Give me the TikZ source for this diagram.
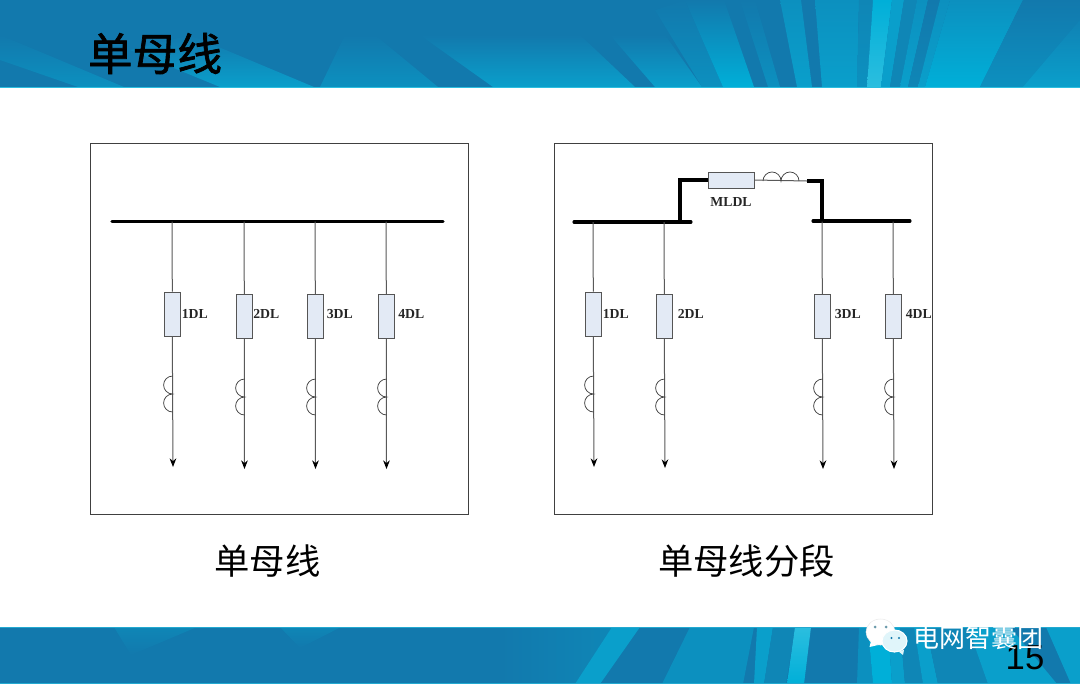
\documentclass[tikz,border=0pt]{standalone}
\usetikzlibrary{arrows.meta}
\usepackage{fontspec}
\setmainfont{Liberation Serif}
\newfontfamily\cjk{Noto Sans CJK SC}
\newfontfamily\cjkt[RawFeature={embolden=1.6}]{Noto Sans CJK SC}
\newfontfamily\arialf{Liberation Sans}
\definecolor{rayD}{HTML}{1279AD}
\definecolor{rayE}{HTML}{0F86B6}
\definecolor{rayL}{HTML}{0C90BF}
\definecolor{rayM}{HTML}{0A9FCB}
\definecolor{rayB}{HTML}{00AFD8}
\definecolor{rayP}{HTML}{2BBEDF}
\definecolor{boxfill}{HTML}{E3EAF5}
\definecolor{boxline}{HTML}{555555}
\tikzset{
  frame/.style={draw=black!75,line width=0.6pt,fill=white},
  bus/.style={line width=2.3pt,line cap=round,black},
  feeder/.style={line width=0.75pt,draw=black!65},
  feedarrow/.style={line width=0.75pt,draw=black!65,-{Stealth[length=6.5pt,width=5pt,black]}},
  breaker/.style={draw=boxline,line width=0.7pt,fill=boxfill,inner sep=0pt,minimum width=12pt,minimum height=33pt},
  hbreaker/.style={draw=boxline,line width=0.7pt,fill=boxfill,inner sep=0pt,minimum width=34.5pt,minimum height=12pt},
  coil/.style={draw=black!75,line width=0.55pt},
  dl/.style={font=\bfseries\fontsize{10.3pt}{11pt}\selectfont,inner sep=0pt,text=black!85},
  caption/.style={font=\cjk\fontsize{26.5pt}{28pt}\selectfont,inner sep=0pt,text=black},
}
% ray with a gradient running over the whole height of the top band: top colour, bottom colour, outline
\newcommand{\toprayfill}[3]{\begin{scope}\clip #3;\shade[top color=#1,bottom color=#2] (0,0) rectangle (1080,87);\end{scope}}
% ray that stays the band's dark colour down to y=35 and then brightens: bottom colour, outline
\newcommand{\softray}[2]{\begin{scope}\clip #2;\shade[top color=rayD,bottom color=#1] (0,35) rectangle (1080,87);\end{scope}}
% id, top x, bus y, box top y, box bottom y, arrow end x, arrow end y, label x, label
\newcommand{\baydraw}[9]{
  \coordinate (#1t) at (#2,#3);
  \node[breaker] (#1b) at (#2+0.3,{(#4+#5)/2}) {};
  \coordinate (#1e) at (#6,#7);
  \draw[feeder] (#1t) -- (#1b.north);
  \draw[feedarrow] (#1b.south) -- (#1e);
  \draw[coil] (#2+0.6,#5+40) arc[start angle=270,end angle=90,radius=9] arc[start angle=270,end angle=90,radius=9];
  \node[dl,anchor=west] (#1l) at (#8,314) {#9};
}
\begin{document}
\begin{tikzpicture}[x=0.75pt,y=-0.75pt]
\useasboundingbox (0,0) rectangle (1080,686);
\fill[white] (0,0) rectangle (1080,686);
% top band
\begin{scope}
\clip (0,0) rectangle (1080,87);
\fill[rayD] (0,0) rectangle (1080,87);
\softray{rayL}{(0,35) -- (124,87) -- (78,87) -- (0,60) -- cycle}
\softray{rayM}{(190,35) -- (314,87) -- (220,87) -- (130,50) -- cycle}
\softray{rayL}{(320,87) -- (345,35) -- (375,35) -- (438,87) -- cycle}
\softray{rayM}{(420,35) -- (580,35) -- (635,87) -- (493,87) -- cycle}
\softray{rayM}{(610,35) -- (665,35) -- (702,87) -- (655,87) -- cycle}
\toprayfill{rayD}{rayL}{(655,10) -- (685,0) -- (723,87) -- (702,87) -- cycle}
\toprayfill{rayD}{rayB}{(685,0) -- (724,0) -- (754,87) -- (723,87) -- cycle}
\toprayfill{rayD}{rayL}{(740,0) -- (755,0) -- (780,87) -- (768,87) -- cycle}
\toprayfill{rayL}{rayM}{(780,0) -- (801,0) -- (812,87) -- (797,87) -- cycle}
\toprayfill{rayL}{rayM}{(815,0) -- (859,0) -- (857,87) -- (822,87) -- cycle}
\toprayfill{rayE}{rayL}{(859,0) -- (873,0) -- (867,87) -- (857,87) -- cycle}
\toprayfill{rayB}{rayP}{(873,0) -- (892,0) -- (881,87) -- (867,87) -- cycle}
\toprayfill{rayM}{rayM}{(892,0) -- (904,0) -- (890,87) -- (881,87) -- cycle}
\toprayfill{rayE}{rayE}{(904,0) -- (917,0) -- (900,87) -- (890,87) -- cycle}
\toprayfill{rayL}{rayM}{(917,0) -- (928,0) -- (908,87) -- (900,87) -- cycle}
\toprayfill{rayD}{rayE}{(928,0) -- (940,0) -- (918,87) -- (908,87) -- cycle}
\toprayfill{rayL}{rayM}{(940,0) -- (950,0) -- (925,87) -- (918,87) -- cycle}
\toprayfill{rayL}{rayB}{(950,0) -- (1023,0) -- (980,87) -- (925,87) -- cycle}
\toprayfill{rayD}{rayL}{(1023,0) -- (1080,0) -- (1080,87) -- (980,87) -- cycle}
\toprayfill{rayD}{rayM}{(1080,20) -- (1080,87) -- (1023,87) -- cycle}
\end{scope}
\fill[rayP] (0,87) rectangle (1080,87.7);
% bottom band
\begin{scope}
\clip (0,627) rectangle (1080,683.5);
\fill[rayD] (0,627) rectangle (1080,683.5);
\path[top color=rayE,bottom color=rayD] (114,627) -- (197,627) -- (131,655) -- cycle;
\path[top color=rayE,bottom color=rayD] (280,627) -- (341,627) -- (300,648) -- cycle;
\path[left color=rayD,right color=rayE] (500,627) -- (612,627) -- (575,684) -- (500,684) -- cycle;
\fill[rayM] (612,627) -- (640,627) -- (600,684) -- (575,684) -- cycle;
\fill[rayL] (690,627) -- (754,627) -- (743,684) -- (662,684) -- cycle;
\fill[rayM] (757,627) -- (773,627) -- (764,684) -- (754,684) -- cycle;
\fill[rayE] (773,627) -- (795,627) -- (786,684) -- (764,684) -- cycle;
\path[top color=rayP,bottom color=rayB] (795,627) -- (811,627) -- (804,684) -- (787,684) -- cycle;
\fill[rayL] (859,627) -- (868,627) -- (873,684) -- (857,684) -- cycle;
\fill[rayB] (868,627) -- (888,627) -- (892,684) -- (873,684) -- cycle;
\fill[rayM] (888,627) -- (900,627) -- (905,684) -- (892,684) -- cycle;
\fill[rayE] (900,627) -- (914,627) -- (923,684) -- (905,684) -- cycle;
\fill[rayM] (914,627) -- (926,627) -- (938,684) -- (923,684) -- cycle;
\fill[rayE] (926,627) -- (968,627) -- (988,684) -- (938,684) -- cycle;
\fill[rayM] (968,627) -- (1010,627) -- (1057,684) -- (988,684) -- cycle;
\fill[rayM] (1046,627) -- (1080,627) -- (1080,684) -- (1071,684) -- cycle;
\end{scope}
\fill[rayP!70!rayD] (0,627) rectangle (1080,627.7);
\fill[rayP!70!rayD] (0,683) rectangle (1080,683.7);
% title
\node[font=\cjkt\fontsize{33.5pt}{35pt}\selectfont,inner sep=0pt,text=black] (title) at (155,53.5) {单母线};
% left panel
\node[frame,minimum width=283.5pt,minimum height=278.25pt,inner sep=0pt,anchor=north west] (panelL) at (90,143) {};
\coordinate (busLa) at (112,221.5);
\coordinate (busLb) at (443,221.5);
\draw[bus] (busLa) -- (busLb);
\baydraw{La}{172}{221.5}{292}{336}{173}{467}{181.5}{1DL}
\baydraw{Lb}{244}{221.5}{294}{339}{244.5}{469}{253}{2DL}
\baydraw{Lc}{315}{221.5}{294}{339}{315.5}{469}{326.5}{3DL}
\baydraw{Ld}{386}{221.5}{294}{339}{386.5}{469}{398}{4DL}
\node[caption] (capL) at (267.5,561) {单母线};
% right panel
\node[frame,minimum width=283.5pt,minimum height=278.25pt,inner sep=0pt,anchor=north west] (panelR) at (554,143) {};
\node[hbreaker] (ml) at (731,180) {};
\coordinate (mlA) at (680,222);
\coordinate (busRa) at (574,222);
\coordinate (busRb) at (691,222);
\coordinate (busRc) at (813,221);
\coordinate (busRd) at (910,221);
\coordinate (mlB) at (807,181);
\coordinate (mlC) at (822,221);
\draw[bus,line cap=butt] (mlA) |- (ml.west);
\draw[bus] (busRa) -- (busRb);
\draw[bus] (busRc) -- (busRd);
\draw[feeder] (ml.east) -- (mlB);
\draw[bus,line cap=butt] (mlB) -| (mlC);
\draw[coil] (763,181) arc[start angle=180,end angle=360,radius=9] arc[start angle=180,end angle=360,radius=9];
\node[dl] (mll) at (731,202) {MLDL};
\baydraw{Ra}{593}{222}{292}{336}{594}{467}{602.5}{1DL}
\baydraw{Rb}{664}{222}{294}{339}{665}{468}{677.5}{2DL}
\baydraw{Rc}{822}{221.5}{294}{339}{823}{469}{834.5}{3DL}
\baydraw{Rd}{893}{221.5}{294}{339}{894}{469}{905.5}{4DL}
\node[caption] (capR) at (746.5,561) {单母线分段};
% page number under the watermark
\node[font=\arialf\fontsize{26pt}{28pt}\selectfont,inner sep=0pt,text=black] (pageno) at (1025,657.5) {15};
% wechat logo
\fill[white,draw=black!8,line width=0.4pt] (880.5,632) ellipse[x radius=14.5,y radius=13];
\fill[white] (871,641) -- (878,645) -- (869.5,647) -- cycle;
\fill[black!40!rayL!60!white] (875,627) circle (1.5) (886,627) circle (1.5);
\fill[white!88!rayB,draw=white,line width=0.8pt] (894.5,641) ellipse[x radius=12.5,y radius=11];
\fill[white!88!rayB] (898,651) -- (904,650) -- (903,655) -- cycle;
\fill[rayD] (891.5,638) circle (1.2) (899,638) circle (1.2);
\node[font=\cjk\fontsize{19.5pt}{21pt}\selectfont,inner sep=0pt,text=white] (brand) at (978,638) {电网智囊团};
\end{tikzpicture}
\end{document}
